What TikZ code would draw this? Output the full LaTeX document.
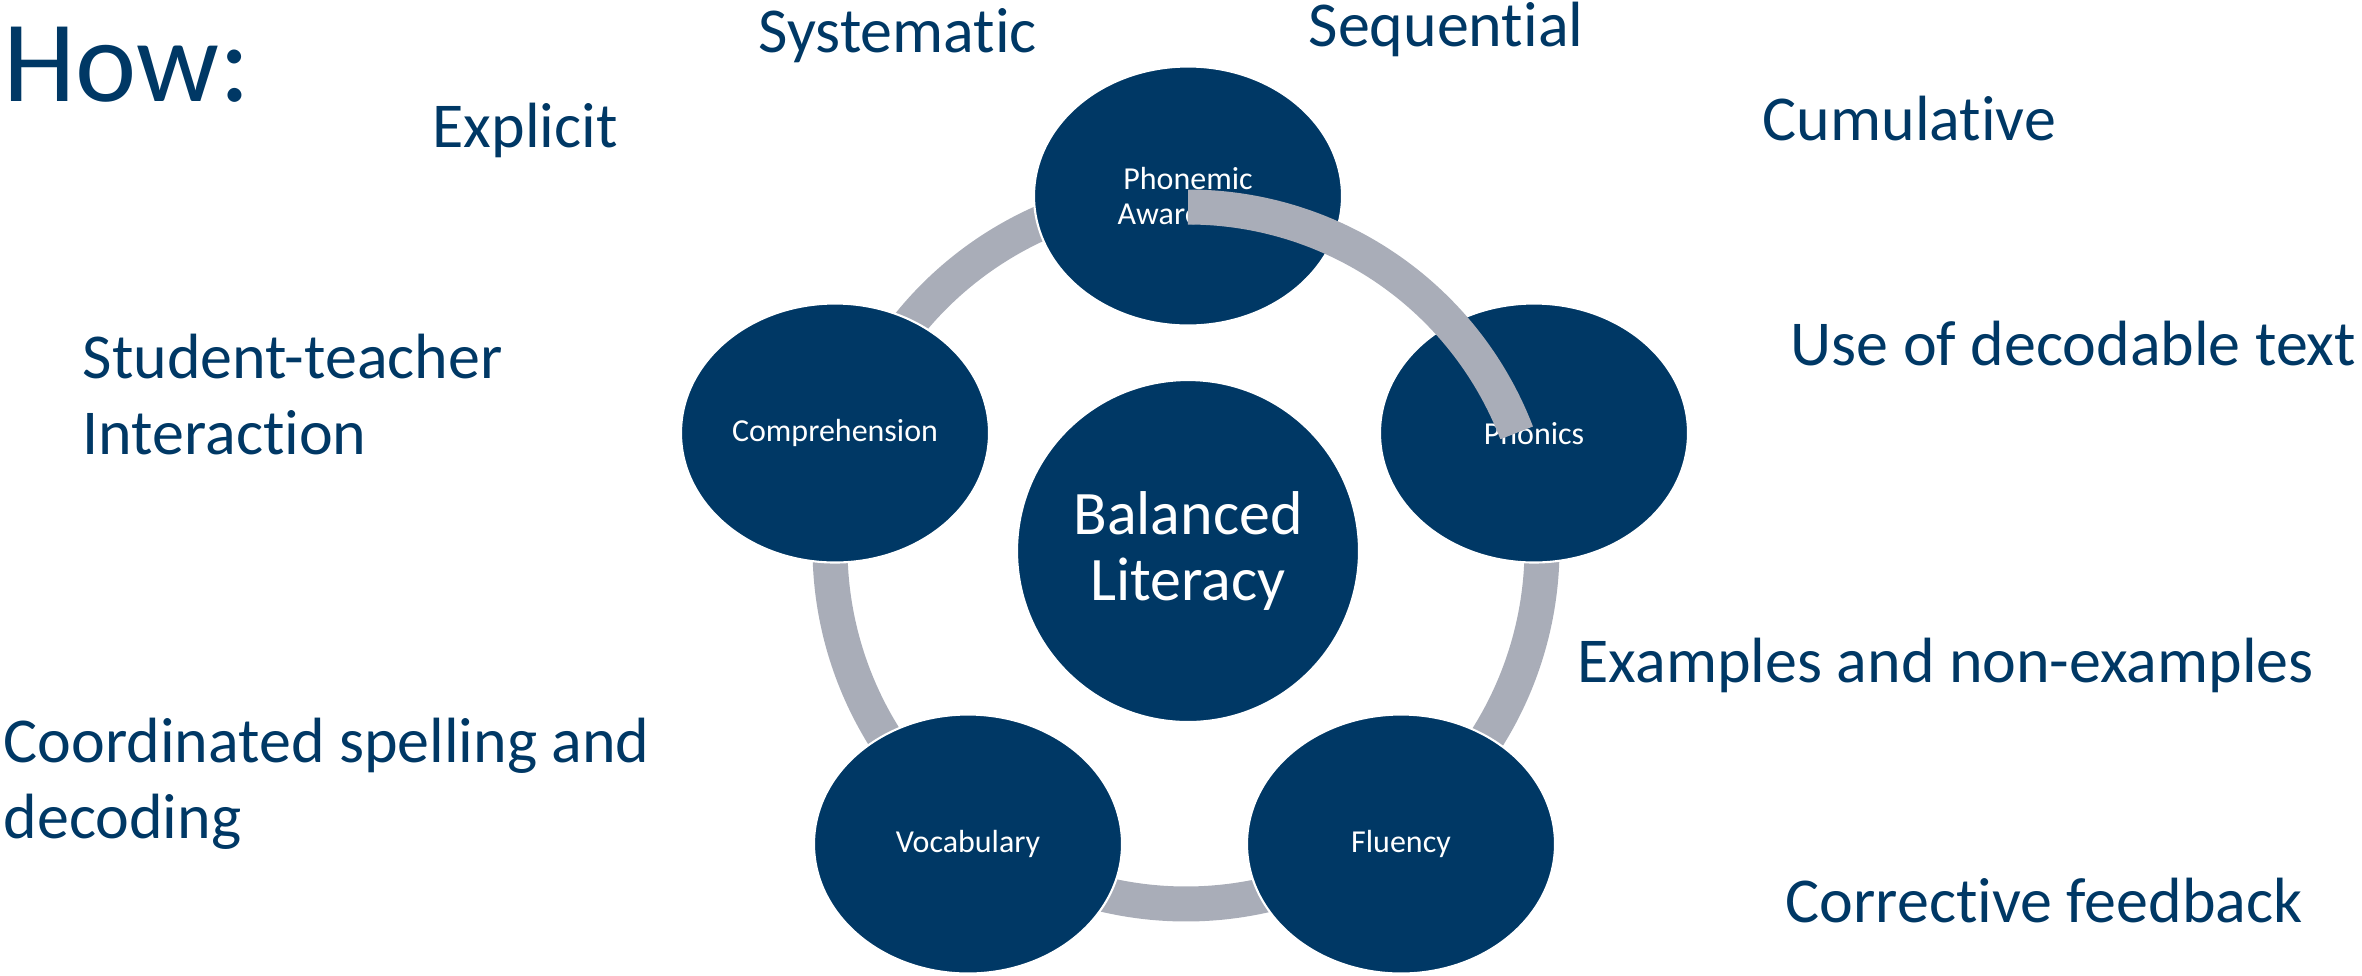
\documentclass[tikz,border=0pt]{standalone}
\usepackage{fontspec}
\setmainfont{Carlito}[Ligatures=NoCommon]
\usetikzlibrary{shapes.geometric}
\definecolor{navy}{RGB}{0,56,101}
\definecolor{ringgray}{RGB}{169,173,184}

\begin{document}
\begin{tikzpicture}[
    part/.style={ellipse,fill=navy,draw=white,line width=0.6pt,minimum width=3.08cm,minimum height=2.59cm,inner sep=0pt,text=white,align=center,font=\fontsize{9.1}{10}\selectfont},
    hub/.style={circle,fill=navy,draw=white,line width=0.6pt,minimum size=3.42cm,inner sep=0pt,text=white,align=center,font=\fontsize{17.6}{19}\selectfont},
    ring/.style={ringgray,line width=0.35cm},
    tip/.style={anchor=base west,inner sep=0pt,text=navy,align=left,font=\fontsize{18.2}{21.6}\selectfont}]

  \useasboundingbox (0,0) rectangle (23.62,-9.75);

  \coordinate (o) at (11.86,-5.48);

  % grey ring, drawn first so the ellipses sit on it
  \foreach \s/\e in {90/161, 161/233.6, 233.6/306.4, 306.4/379}
    \draw[ring] (o) ++(\s:3.56) arc[start angle=\s, end angle=\e, radius=3.56];

  \node[hub]  (bal)   at (11.88,-5.51) {Balanced\\Literacy};
  \node[part] (aware) at (11.88,-1.96) {Phonemic\\Awareness};
  \node[part] (phon)  at (15.34,-4.33) {Phonics};
  \node[part] (flu)   at (14.01,-8.44) {Fluency};
  \node[part] (voc)   at (9.68,-8.44)  {Vocabulary};
  \node[part] (comp)  at (8.35,-4.33)  {Comprehension};

  % this piece of the ring lies on top
  \draw[ring] (aware) ++(0,-0.11) arc[start angle=90, end angle=21, radius=3.52];

  \node[tip,font=\fontsize{33}{40}\selectfont] (how) at (0.03,-1.01) {How:};
  \node[tip] (sys)   at (7.58,-0.52)  {Systematic};
  \node[tip] (seq)   at (13.08,-0.46) {Sequential};
  \node[tip] (expl)  at (4.32,-1.47)  {Explicit};
  \node[tip] (cum)   at (17.62,-1.40) {Cumulative};
  \node[tip] (stud)  at (0.82,-4.54)  {Student-teacher\\Interaction};
  \node[tip] (use)   at (17.90,-3.65) {Use of decodable text};
  \node[tip] (ex)    at (15.77,-6.82) {Examples and non-examples};
  \node[tip] (coord) at (0.03,-8.38)  {Coordinated spelling and\\decoding};
  \node[tip] (corr)  at (17.85,-9.22) {Corrective feedback};
\end{tikzpicture}
\end{document}
